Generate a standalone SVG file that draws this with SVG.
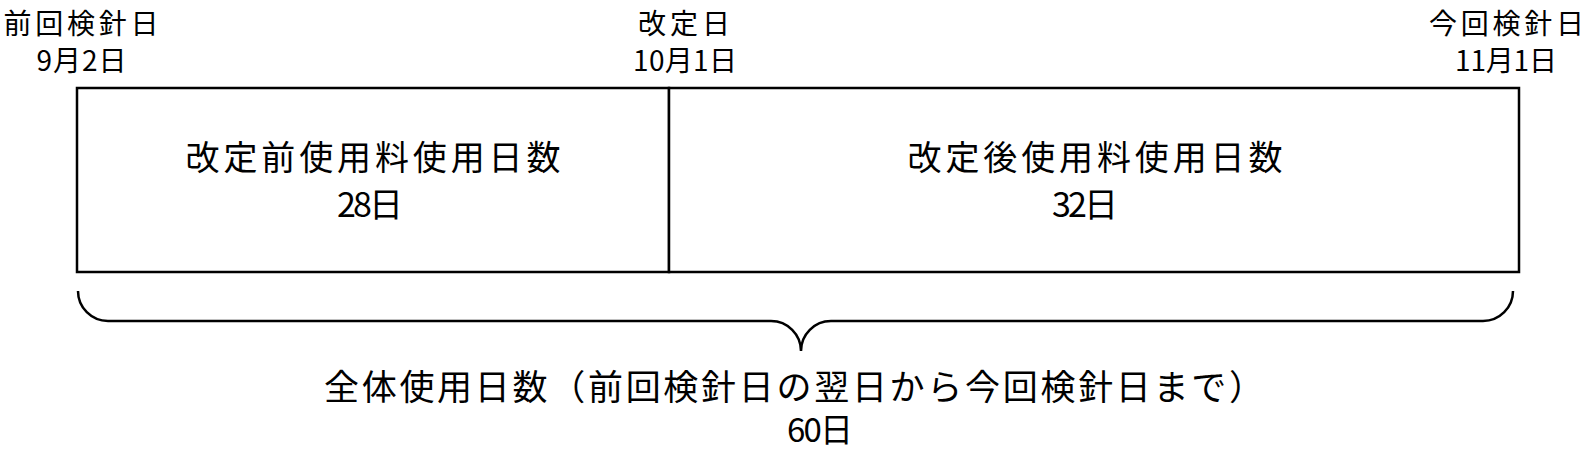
<svg xmlns="http://www.w3.org/2000/svg" width="1587" height="450" viewBox="0 0 1587 450">
<style>
  text { font-family: "Noto Sans CJK JP", "Noto Sans", sans-serif; fill: #000; }
  .sm { font-size: 28px; text-anchor: middle; }
  .lg { font-size: 34px; text-anchor: middle; }
  .box { fill: #fff; stroke: #000; stroke-width: 2.5; }
  .brace { fill: none; stroke: #000; stroke-width: 2.5; }
</style>
<rect width="1587" height="450" fill="#fff"/>
<g id="label-prev">
  <text class="sm" x="81" y="34" textLength="155" lengthAdjust="spacing">前回検針日</text>
  <text class="sm" x="81.5" y="71" textLength="90" lengthAdjust="spacing">9月2日</text>
</g>
<g id="label-revision">
  <text class="sm" x="684" y="34" textLength="92" lengthAdjust="spacing">改定日</text>
  <text class="sm" x="685" y="71" textLength="104" lengthAdjust="spacing">10月1日</text>
</g>
<g id="label-current">
  <text class="sm" x="1506.5" y="34" textLength="155" lengthAdjust="spacing">今回検針日</text>
  <text class="sm" x="1506" y="71" textLength="102" lengthAdjust="spacing">11月1日</text>
</g>
<g id="box-before">
  <rect class="box" x="77" y="88" width="592" height="184"/>
  <text class="lg" x="373" y="170" textLength="375" lengthAdjust="spacing">改定前使用料使用日数</text>
  <text class="lg" x="370" y="217" textLength="66" lengthAdjust="spacing">28日</text>
</g>
<g id="box-after">
  <rect class="box" x="669" y="88" width="850" height="184"/>
  <text class="lg" x="1095" y="170" textLength="375" lengthAdjust="spacing">改定後使用料使用日数</text>
  <text class="lg" x="1085" y="217" textLength="66" lengthAdjust="spacing">32日</text>
</g>
<g id="connectors">
  <path class="brace" d="M78,291 A30,30 0 0 0 108,321 H771 A30,30 0 0 1 801,351 A30,30 0 0 1 831,321 H1483 A30,30 0 0 0 1513,291"/>
</g>
<g id="total">
  <text x="324" y="400" font-size="35" textLength="940" lengthAdjust="spacing">全体使用日数（前回検針日の翌日から今回検針日まで）</text>
  <text x="820" y="442" font-size="33" text-anchor="middle" textLength="66" lengthAdjust="spacing">60日</text>
</g>
</svg>
